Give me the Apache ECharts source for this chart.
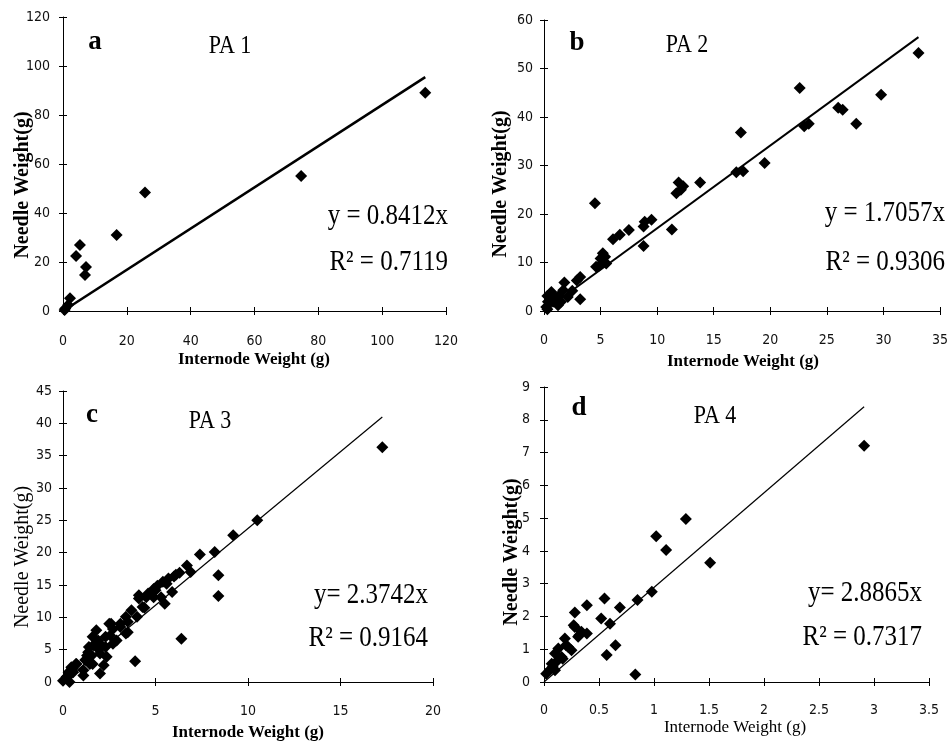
<!DOCTYPE html>
<html>
<head>
<meta charset="utf-8">
<script src="https://cdn.jsdelivr.net/npm/echarts@6/dist/echarts.min.js"></script>
<style>
html,body{margin:0;padding:0;background:#fff;}
#chart{width:951px;height:746px;}
</style>
</head>
<body>
<div id="chart"></div>
<script>
// ---- Data ----
var panelLetters = ['a', 'b', 'c', 'd'];
var panelNames = ['PA 1', 'PA 2', 'PA 3', 'PA 4'];
var slopes = [0.8412, 1.7057, 2.3742, 2.8865];
var equations = ['y = 0.8412x', 'y = 1.7057x', 'y= 2.3742x', 'y= 2.8865x'];
var r2Labels = ['R\u00B2 = 0.7119', 'R\u00B2 = 0.9306', 'R\u00B2 = 0.9164', 'R\u00B2 = 0.7317'];
var xTitle = 'Internode Weight (g)';
var yTitle = 'Needle Weight(g)';

var xTicksA = [0, 20, 40, 60, 80, 100, 120];
var yTicksA = [0, 20, 40, 60, 80, 100, 120];
var xTicksB = [0, 5, 10, 15, 20, 25, 30, 35];
var yTicksB = [0, 10, 20, 30, 40, 50, 60];
var xTicksC = [0, 5, 10, 15, 20];
var yTicksC = [0, 5, 10, 15, 20, 25, 30, 35, 40, 45];
var xTicksD = [0, 0.5, 1, 1.5, 2, 2.5, 3, 3.5];
var yTicksD = [0, 1, 2, 3, 4, 5, 6, 7, 8, 9];

var pointsA = [[113.5,89.1],[74.6,55.1],[25.7,48.4],[16.8,31.0],[5.3,26.9],[4.1,22.4],[7.2,18.0],[6.9,14.7],[2.2,5.2],[1.6,2.4],[0.5,0.4],[0.7,1.0]];

var pointsB = [[33.1,53.2],[29.8,44.6],[22.6,46.0],[27.6,38.6],[26.0,41.9],[26.4,41.5],[23.0,38.1],[23.4,38.6],[19.5,30.5],[17.4,36.8],[17.6,28.8],[17.0,28.6],[13.8,26.5],[11.9,26.5],[11.7,24.3],[12.3,25.7],[12.1,25.0],[11.3,16.8],[9.5,18.8],[8.9,18.4],[8.8,17.4],[8.8,13.4],[7.5,16.7],[6.7,15.7],[6.1,14.8],[4.5,22.2],[5.2,11.9],[5.4,11.2],[5.0,10.8],[5.5,9.8],[4.6,9.1],[4.9,9.4],[3.2,7.0],[2.9,6.3],[3.2,2.4],[1.8,5.9],[1.7,4.3],[2.1,2.9],[2.5,4.2],[0.65,3.9],[0.94,2.9],[1.24,1.2],[0.5,2.2],[0.2,0.8],[0.35,1.9],[0.8,1.9],[1.5,1.9],[0.3,3.1],[0.9,2.1],[1.3,3.1],[0.3,0.35]];

var pointsC = [[17.26,36.3],[10.5,25.0],[9.2,22.7],[8.2,20.1],[7.4,19.7],[8.4,16.5],[8.4,13.3],[6.7,18.0],[6.9,17.0],[6.1,16.6],[5.9,13.9],[5.7,16.0],[5.4,15.5],[5.5,12.1],[5.0,14.2],[4.9,13.1],[4.6,13.7],[4.1,12.9],[4.4,11.5],[6.4,6.7],[3.9,3.2],[3.7,11.1],[3.4,10.1],[3.5,7.7],[3.1,9.0],[2.7,8.2],[2.5,9.0],[2.3,7.0],[2.0,5.9],[2.0,1.3],[1.6,7.0],[1.4,5.4],[2.0,4.4],[1.3,4.1],[1.6,2.8],[1.1,1.0],[0.7,2.8],[0.5,2.1],[0.2,0.8],[0.0,0.2],[0.35,0.0],[0.3,1.5],[2.3,5.4],[2.7,5.9],[1.8,8.0],[0.27,0.8],[0.55,1.5],[0.45,2.3],[0.73,2.8],[1.1,1.8],[1.45,2.8],[1.55,4.1],[1.64,5.7],[1.9,6.4],[2.0,5.2],[2.36,3.9],[2.2,2.6],[2.55,7.2],[2.9,6.4],[2.6,9.0],[3.1,8.5],[3.4,7.5],[3.5,9.3],[4.0,10.1],[4.1,13.4],[4.3,11.6],[4.5,13.1],[4.9,14.4],[5.1,14.9],[5.3,13.1],[1.2,3.4],[1.36,4.6],[1.8,5.4],[5.6,15.2],[6.0,16.3],[6.3,16.9]];

var pointsD = [[2.91,7.21],[1.29,4.97],[1.02,4.45],[1.11,4.03],[1.51,3.64],[0.98,2.75],[0.85,2.50],[0.83,0.23],[0.69,2.27],[0.55,2.55],[0.52,1.94],[0.60,1.78],[0.65,1.12],[0.57,0.82],[0.39,2.34],[0.28,2.12],[0.27,1.73],[0.31,1.38],[0.39,1.48],[0.34,1.53],[0.19,1.33],[0.13,1.02],[0.25,0.97],[0.20,1.12],[0.16,0.76],[0.11,0.61],[0.08,0.46],[0.05,0.36],[0.02,0.25],[0.10,0.36],[0.07,0.56],[0.22,1.07],[0.10,0.87],[0.17,0.71],[0.28,1.68],[0.32,1.43]];

// ---- Layout / styles ----
var allPoints = [pointsA, pointsB, pointsC, pointsD];
var xTicks = [xTicksA, xTicksB, xTicksC, xTicksD];
var yTicks = [yTicksA, yTicksB, yTicksC, yTicksD];
var grids = [
  {left: 63, top: 17, width: 383, height: 294},
  {left: 544, top: 20, width: 397, height: 291},
  {left: 63, top: 391, width: 370, height: 291},
  {left: 544, top: 387, width: 385, height: 295}
];
var xLabelMargin = [23, 22, 22, 21];
var yLabelMargin = [13, 11, 11, 14];
var lineWidths = [2.6, 2, 1.2, 1.2];

var serif = '"Liberation Serif", "Times New Roman", "DejaVu Serif", serif';
var tickFont = '"DejaVu Sans Condensed", "Liberation Sans Narrow", "DejaVu Sans", sans-serif';

var xAxes = [], yAxes = [], series = [];
for (var i = 0; i < 4; i++) {
  var xt = xTicks[i], yt = yTicks[i];
  var xmin = xt[0], xmax = xt[xt.length - 1], xint = xt[1] - xt[0];
  var ymin = yt[0], ymax = yt[yt.length - 1], yint = yt[1] - yt[0];
  var common = {type: 'value', gridIndex: i, splitLine: {show: false}};
  xAxes.push(Object.assign({}, common, {
    min: xmin, max: xmax, interval: xint, position: 'bottom',
    axisLine: {show: true, onZero: false, lineStyle: {color: '#000', width: 1}},
    axisTick: {show: true, inside: false, length: 4, lineStyle: {color: '#000'}},
    axisLabel: {color: '#111', fontFamily: tickFont, fontSize: 14, margin: xLabelMargin[i]}
  }));
  xAxes.push(Object.assign({}, common, {
    min: xmin, max: xmax, interval: xint, position: 'bottom', offset: 0,
    axisLine: {show: false}, axisLabel: {show: false},
    axisTick: {show: true, inside: true, length: 4, lineStyle: {color: '#000'}}
  }));
  yAxes.push(Object.assign({}, common, {
    min: ymin, max: ymax, interval: yint, position: 'left',
    axisLine: {show: true, onZero: false, lineStyle: {color: '#000', width: 1}},
    axisTick: {show: true, inside: false, length: 4, lineStyle: {color: '#000'}},
    axisLabel: {color: '#111', fontFamily: tickFont, fontSize: 14, margin: yLabelMargin[i]}
  }));
  yAxes.push(Object.assign({}, common, {
    min: ymin, max: ymax, interval: yint, position: 'left', offset: 0,
    axisLine: {show: false}, axisLabel: {show: false},
    axisTick: {show: true, inside: true, length: 4, lineStyle: {color: '#000'}}
  }));

  var pts = allPoints[i];
  var maxX = Math.max.apply(null, pts.map(function (p) { return p[0]; }));
  series.push({
    type: 'line', xAxisIndex: 2 * i, yAxisIndex: 2 * i,
    data: [[0, 0], [maxX, slopes[i] * maxX]],
    symbol: 'none', silent: true, z: 2,
    lineStyle: {color: '#000', width: lineWidths[i]}
  });
  series.push({
    type: 'scatter', xAxisIndex: 2 * i, yAxisIndex: 2 * i,
    data: pts, symbol: 'diamond', symbolSize: 12, z: 3,
    itemStyle: {color: '#000', opacity: 1}
  });
}

// ---- Text annotations ----
function txt(x, y, s, font, align, rot, sy) {
  return {
    type: 'text', x: x, y: y, rotation: rot || 0, scaleY: sy || 1, z: 10,
    style: {text: s, font: font, fill: '#000', textAlign: align || 'center', textVerticalAlign: 'middle'}
  };
}
var letterPos = [[95, 42], [577, 43], [92, 415], [579, 408]];
var namePos = [[230, 47], [687, 46], [210, 422], [715, 417]];
var eqPos = [[448, 216, 262], [945, 213, 262], [428, 595, 638], [922, 593, 637]];
var xTitlePos = [[254, 360], [743, 362], [248, 733], [735, 728]];
var yTitlePos = [[23, 185], [501, 184], [23, 557], [512, 552]];
var xTitleBold = [true, true, true, false];
var yTitleBold = [true, true, false, true];

var graphics = [];
for (var k = 0; k < 4; k++) {
  graphics.push(txt(letterPos[k][0], letterPos[k][1], panelLetters[k], 'bold 27px ' + serif));
  graphics.push(txt(namePos[k][0], namePos[k][1], panelNames[k], '22px ' + serif, 'center', 0, 1.1));
  graphics.push(txt(eqPos[k][0], eqPos[k][1], equations[k], '25px ' + serif, 'right', 0, 1.15));
  graphics.push(txt(eqPos[k][0], eqPos[k][2], r2Labels[k], '25px ' + serif, 'right', 0, 1.15));
  graphics.push(txt(xTitlePos[k][0], xTitlePos[k][1], xTitle, (xTitleBold[k] ? 'bold ' : '') + '17px ' + serif));
  graphics.push(txt(yTitlePos[k][0], yTitlePos[k][1], yTitle, (yTitleBold[k] ? 'bold ' : '') + '20px ' + serif, 'center', Math.PI / 2));
}

var chart = echarts.init(document.getElementById('chart'), null, {renderer: 'canvas'});
chart.setOption({
  backgroundColor: '#fff',
  animation: false,
  grid: grids,
  xAxis: xAxes,
  yAxis: yAxes,
  series: series,
  graphic: graphics
});
</script>
</body>
</html>
